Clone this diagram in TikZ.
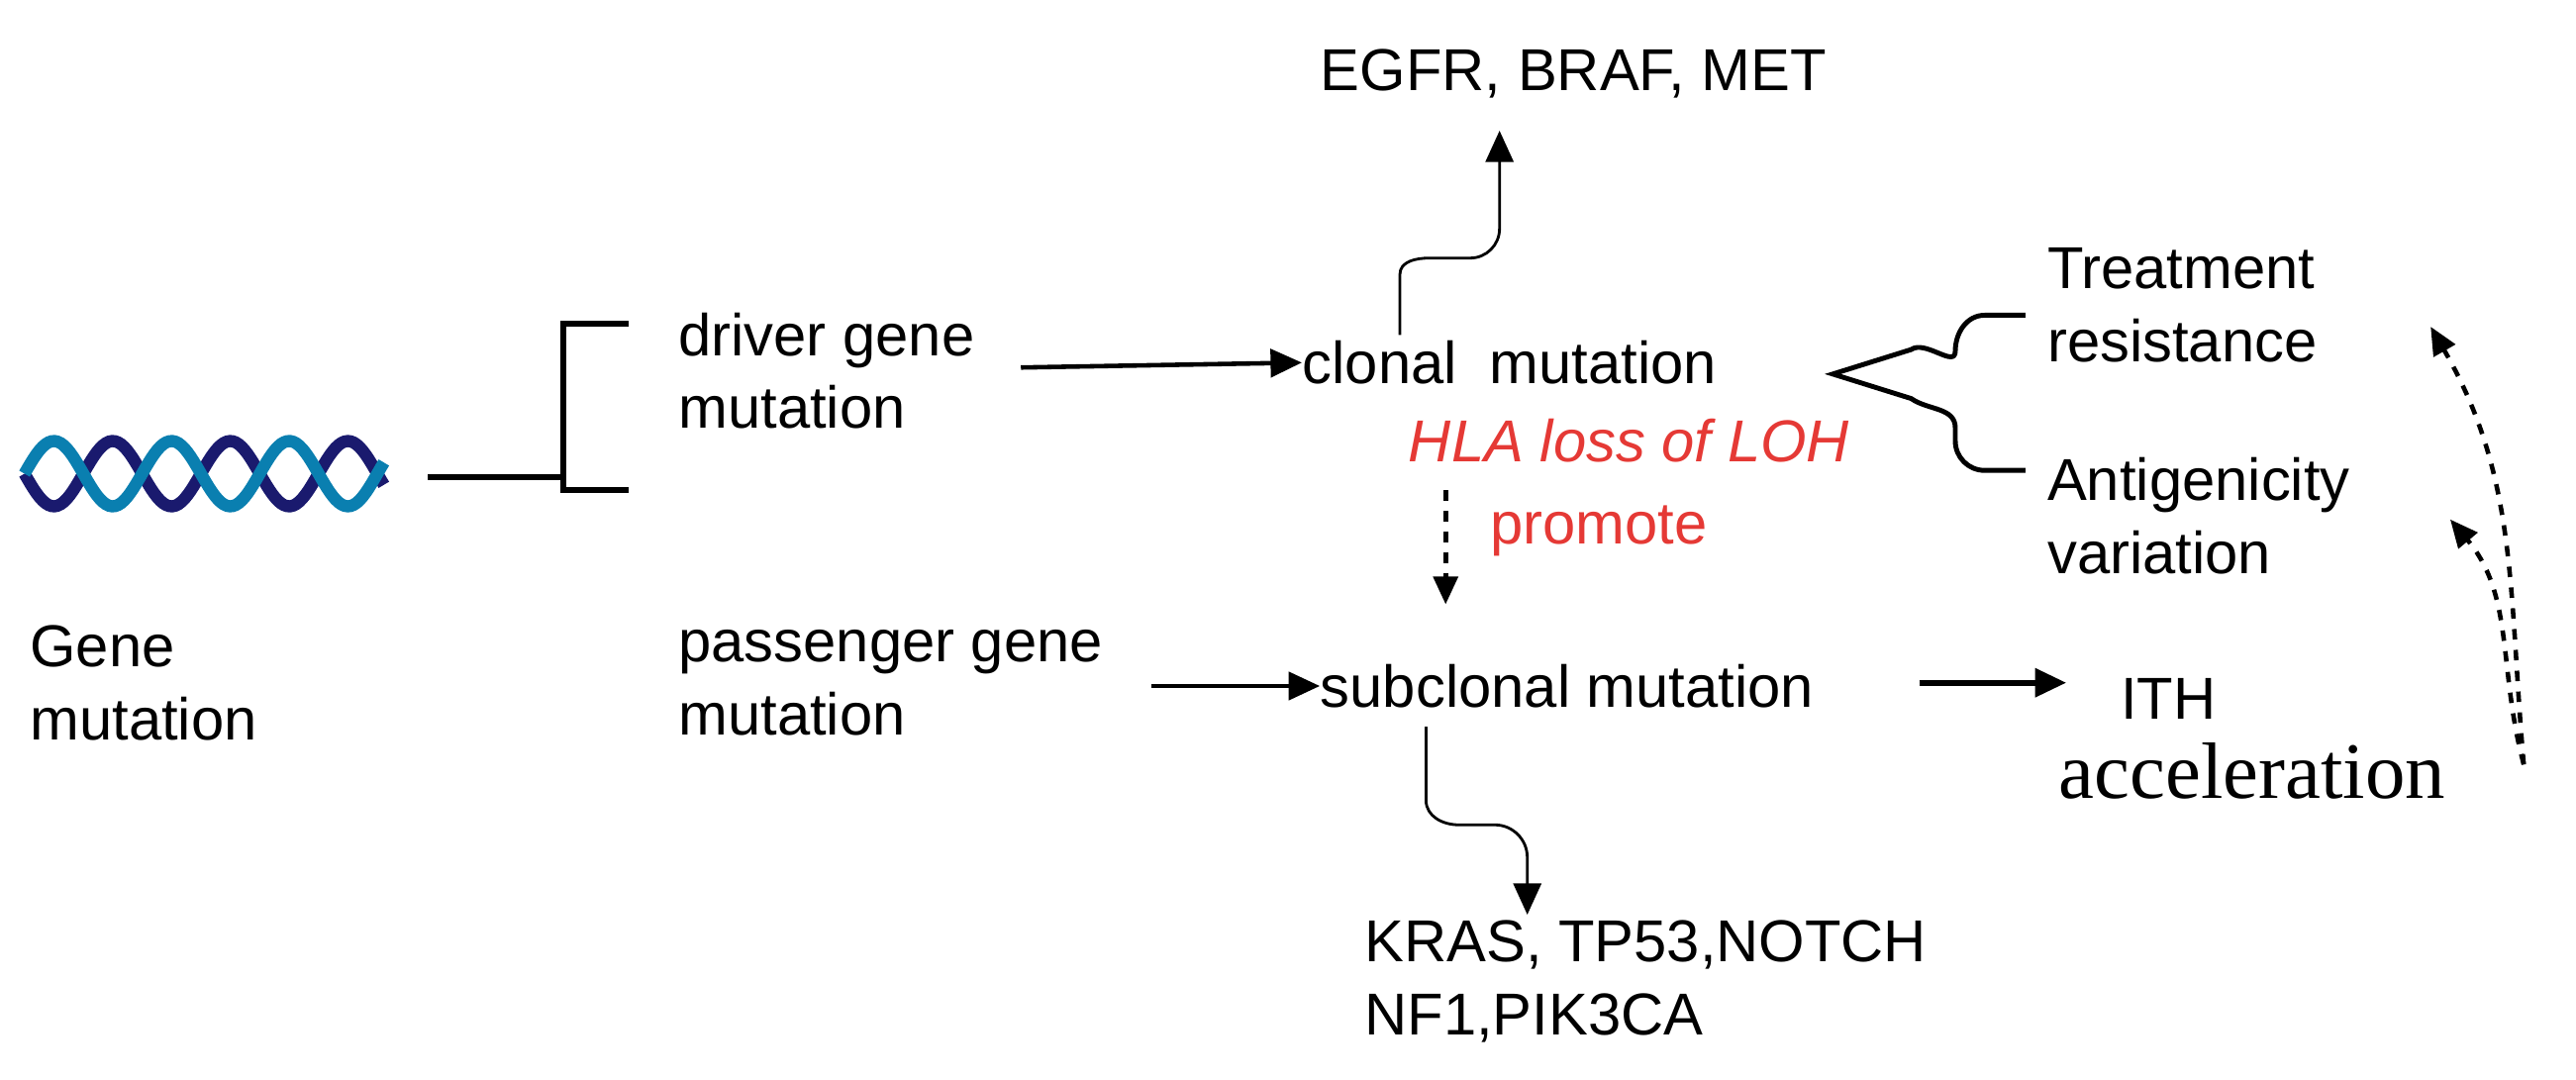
\documentclass[tikz,border=0pt]{standalone}
\usepackage{fontspec}
\setmainfont{Liberation Sans}
\newfontfamily\serifacc{Liberation Serif}
\usetikzlibrary{arrows.meta}
\definecolor{hlared}{HTML}{E53935}
\definecolor{dnadark}{HTML}{1A1A6E}
\definecolor{dnalight}{HTML}{0A7FB0}
\tikzset{
  lbl/.style={align=left,anchor=west,inner sep=0pt,font=\fontsize{17}{21}\selectfont},
  arr/.style={-{Triangle[length=9pt,width=8pt]},line width=1.3pt},
  dot/.style={-{Triangle[length=8pt,width=7pt]},line width=1.3pt,dash pattern=on 3pt off 3pt}
}
\begin{document}
\begin{tikzpicture}[x=0.165mm,y=-0.165mm]
        \useasboundingbox (0,0) rectangle (1577,661);
        % helix
        \draw[dnadark,line width=3.5pt] plot[domain=15:235,samples=120] (\x,{290+20*sin((\x-15)*5)});
        \draw[dnalight,line width=3.5pt] plot[domain=15:235,samples=120] (\x,{290-20*sin((\x-15)*5)});
        \node[lbl] (gene) at (18,418) {Gene\\mutation};
        \coordinate (stem) at (262,292);
        \coordinate (top) at (385,198);
        \coordinate (bot) at (385,300);
        \draw[line width=1.6pt] (stem) -- (345,292);
        \draw[line width=1.6pt] (top) -- (345,198) -- (345,300) -- (bot);
        \node[lbl] (driver) at (415,227) {driver gene\\mutation};
        \node[lbl] (passenger) at (415,418) {passenger gene\\mutation};
        \node[lbl] (clonal) at (797,222) {clonal\ \ mutation};
        \node[lbl] (subclonal) at (808,420) {subclonal mutation};
        \node[lbl] (egfr) at (808,45) {EGFR, BRAF, MET};
        \node[lbl] (kras) at (835,601) {KRAS, TP53,NOTCH\\NF1,PIK3CA};
        \node[lbl] (treat) at (1253,187) {Treatment\\resistance};
        \node[lbl] (antigen) at (1253,316) {Antigenicity\\variation};
        \node[lbl,text=hlared,font=\fontsize{17}{20}\selectfont\itshape] (hla) at (862,270) {HLA loss of LOH};
        \node[lbl,text=hlared] (promote) at (912,325) {promote};
        \node[lbl] (ith) at (1298,428) {ITH};
        \node[lbl,font=\fontsize{23}{26}\serifacc] (accel) at (1260,472) {acceleration};
        \draw[arr] (625,225) -- (clonal.west);
        \draw[arr] (705,420) -- (subclonal.west);
        \draw[arr,line width=1.8pt] (1175,418) -- (1265,418);
        \draw[arr,line width=0.8pt] (857,205) -- (857,168) to[out=90,in=180] (875,158) -- (900,158) to[out=0,in=-90] (918,140) -- (918,80);
        \draw[arr,line width=0.8pt] (873,445) -- (873,490) to[out=-90,in=180] (893,505) -- (915,505) to[out=0,in=90] (935,525) -- (935,560);
        \draw[dot] (885,300) -- (885,370);
        % brace
        \coordinate (tip) at (1122,229);
        \draw[line width=1.4pt,line join=miter] (1240,193) -- (1215,193) to[out=180,in=90] (1197,215) to[out=-90,in=35] (1170,214) -- (tip)
             -- (1170,244) to[out=-35,in=90] (1197,262) -- (1197,270) to[out=-90,in=180] (1215,288) -- (1240,288);
        \coordinate (dsrc) at (1545,468);
        \draw[dot] (dsrc) to[out=95,in=-60] (1488,200);
        \draw[dot] (dsrc) to[out=105,in=-50] (1500,318);
\end{tikzpicture}
\end{document}
